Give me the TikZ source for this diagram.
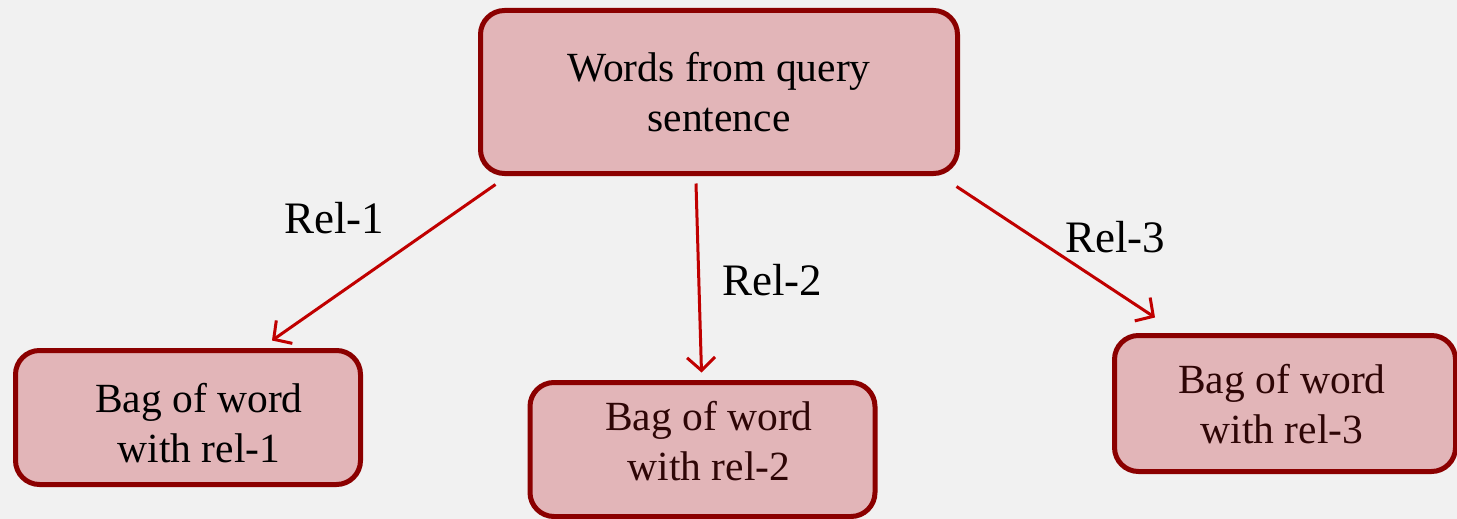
\documentclass[tikz,border=0pt]{standalone}
\usepackage{fontspec}
\setmainfont{Liberation Serif}
\usetikzlibrary{arrows.meta,calc}

\definecolor{paper}{HTML}{F1F1F1}
\definecolor{boxfill}{HTML}{E2B5B8}
\definecolor{boxline}{HTML}{8B0000}
\definecolor{arrowred}{HTML}{C00000}
\definecolor{darktext}{HTML}{2E0606}

\tikzset{
  card/.style={draw=boxline, fill=boxfill, line width=5pt, rounded corners=24pt,
               inner sep=0pt, outer sep=0pt},
  cardtext/.style={align=center, font=\fontsize{41.5}{50}\selectfont, inner sep=0pt},
  rel/.style={font=\fontsize{45}{54}\selectfont, inner sep=0pt, anchor=base},
  link/.style={draw=arrowred, line width=3pt,
               -{Straight Barb[length=13pt,width=28pt,line width=3pt]}}
}

\begin{document}
\begin{tikzpicture}[x=1pt,y=-1pt]
  \useasboundingbox (0,0) rectangle (1457,519);
  \fill[paper] (0,0) rectangle (1457,519);

  % boxes
  \node[card, cardtext, minimum width=477pt, minimum height=163pt] (query) at (719,92)
    {Words from query\\sentence};
  \node[card, minimum width=345pt, minimum height=134pt] (bag1) at (188,417.5) {};
  \node[card, minimum width=345pt, minimum height=134pt] (bag2) at (702.5,449.5) {};
  \node[card, minimum width=341pt, minimum height=136pt] (bag3) at (1285,403.5) {};

  % box captions
  \node[cardtext] (bag1text) at (199,423) {Bag of word\\with rel-1};
  \node[cardtext, text=darktext] (bag2text) at (709,441) {Bag of word\\with rel-2};
  \node[cardtext, text=darktext] (bag3text) at (1282,404) {Bag of word\\with rel-3};

  % relation arrows
  \draw[link] ($(query.south west)+(15,11)$) -- ($(bag1.north)+(84,-10)$);
  \draw[link] ($(query.south)+(-23,10)$) -- ($(bag2.north)+(-1,-10)$);
  \draw[link] ($(query.south east)+(-1,13)$) -- ($(bag3.north)+(-130,-18)$);

  % relation labels
  \node[rel] (rel1) at (334,233) {Rel-1};
  \node[rel] (rel2) at (772,295) {Rel-2};
  \node[rel] (rel3) at (1115,252) {Rel-3};
\end{tikzpicture}
\end{document}
